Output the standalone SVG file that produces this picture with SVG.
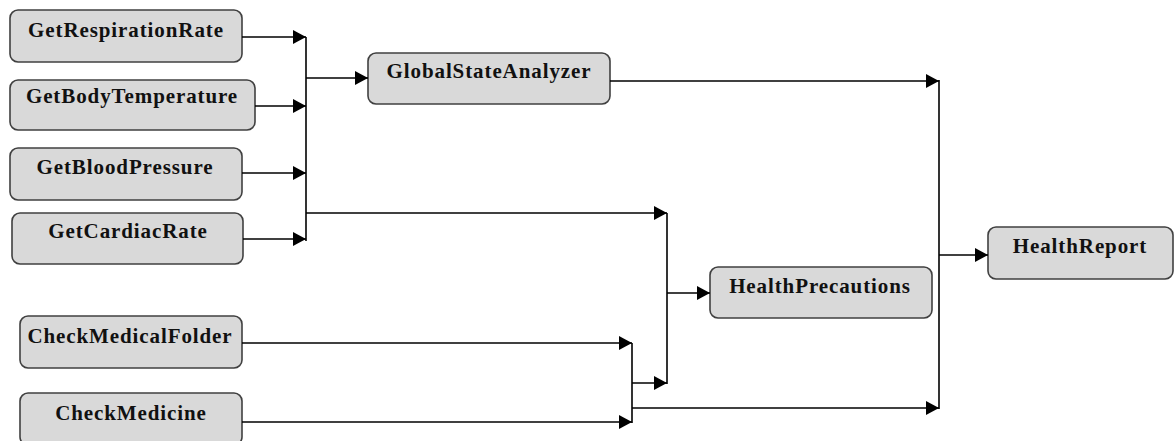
<svg xmlns="http://www.w3.org/2000/svg" width="1175" height="441" viewBox="0 0 1175 441">
<style>
.box{fill:#d9d9d9;stroke:#404040;stroke-width:1.6}
.lbl{font-family:"Liberation Serif","DejaVu Serif",serif;font-weight:bold;font-size:21px;letter-spacing:0.9px;fill:#111;text-anchor:middle}
.cn{fill:none;stroke:#000;stroke-width:1.6}
</style>
<defs>
<marker id="ah" markerUnits="userSpaceOnUse" markerWidth="14" markerHeight="14" refX="13" refY="7" orient="auto">
<path d="M0,0 L13,7 L0,14 z" fill="#000"/>
</marker>
</defs>
<rect width="1175" height="441" fill="#fff"/>
<g id="n-resp"><rect class="box" x="10" y="10" width="232" height="52" rx="8"/><text class="lbl" x="126" y="37">GetRespirationRate</text></g>
<g id="n-body"><rect class="box" x="10" y="80" width="245" height="50" rx="8"/><text class="lbl" x="132" y="103">GetBodyTemperature</text></g>
<g id="n-blood"><rect class="box" x="10" y="148" width="232" height="52" rx="8"/><text class="lbl" x="125" y="174">GetBloodPressure</text></g>
<g id="n-cardiac"><rect class="box" x="12" y="213" width="231" height="51" rx="8"/><text class="lbl" x="128" y="238">GetCardiacRate</text></g>
<g id="n-folder"><rect class="box" x="20" y="316" width="222" height="52" rx="8"/><text class="lbl" x="130" y="343">CheckMedicalFolder</text></g>
<g id="n-medicine"><rect class="box" x="20" y="393" width="222" height="52" rx="8"/><text class="lbl" x="131" y="420">CheckMedicine</text></g>
<g id="n-global"><rect class="box" x="368" y="53" width="242" height="51" rx="8"/><text class="lbl" x="489" y="78">GlobalStateAnalyzer</text></g>
<g id="n-precautions"><rect class="box" x="710" y="267" width="222" height="51" rx="8"/><text class="lbl" x="820" y="293">HealthPrecautions</text></g>
<g id="n-report"><rect class="box" x="988" y="227" width="185" height="52" rx="8"/><text class="lbl" x="1080" y="253">HealthReport</text></g>
<g id="connectors">
<path class="cn" d="M242,37 H306" marker-end="url(#ah)"/>
<path class="cn" d="M255,106 H306" marker-end="url(#ah)"/>
<path class="cn" d="M242,173 H306" marker-end="url(#ah)"/>
<path class="cn" d="M243,239 H306" marker-end="url(#ah)"/>
<path class="cn" d="M306,37 V241"/>
<path class="cn" d="M306,78 H368" marker-end="url(#ah)"/>
<path class="cn" d="M306,213 H667" marker-end="url(#ah)"/>
<path class="cn" d="M667,213 V384"/>
<path class="cn" d="M667,293 H710" marker-end="url(#ah)"/>
<path class="cn" d="M242,343 H632" marker-end="url(#ah)"/>
<path class="cn" d="M242,422 H632" marker-end="url(#ah)"/>
<path class="cn" d="M632,343 V423"/>
<path class="cn" d="M632,383 H667" marker-end="url(#ah)"/>
<path class="cn" d="M632,408 H939" marker-end="url(#ah)"/>
<path class="cn" d="M610,81 H939" marker-end="url(#ah)"/>
<path class="cn" d="M939,80 V409"/>
<path class="cn" d="M939,255 H988" marker-end="url(#ah)"/>
</g>
</svg>
